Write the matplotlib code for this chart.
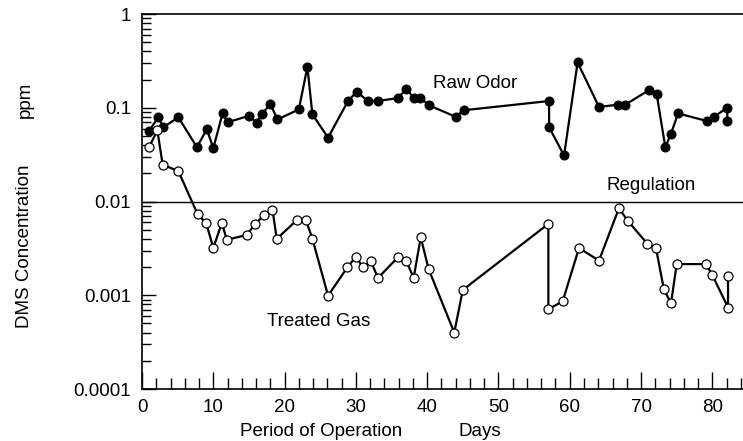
import matplotlib
matplotlib.use("Agg")
import matplotlib.pyplot as plt
from matplotlib.ticker import FixedLocator, FixedFormatter, MultipleLocator, LogLocator, NullFormatter

plt.rcParams['font.family'] = ['Liberation Sans', 'DejaVu Sans']

raw_days = [1.0, 2.3, 3.0, 5.1, 7.7, 9.1, 10.0, 11.3, 12.0, 15.0, 16.1, 16.8, 18.0, 19.0,
            22.0, 23.2, 23.9, 26.1, 28.9, 30.1, 31.7, 33.1, 35.9, 37.1, 38.1, 39.0, 40.3,
            44.0, 45.1, 57.1, 57.1, 59.2, 61.1, 64.1, 66.8, 67.8, 71.1, 72.2, 73.4, 74.2,
            75.2, 79.3, 80.2, 82.1, 82.1]
raw_ppm = [0.057, 0.079, 0.062, 0.079, 0.038, 0.059, 0.037, 0.087, 0.070, 0.082, 0.069,
           0.085, 0.110, 0.075, 0.096, 0.273, 0.085, 0.048, 0.118, 0.148, 0.118, 0.118,
           0.127, 0.160, 0.127, 0.127, 0.106, 0.080, 0.094, 0.118, 0.062, 0.031, 0.304,
           0.102, 0.108, 0.108, 0.154, 0.139, 0.038, 0.053, 0.087, 0.072, 0.080, 0.100,
           0.072]

treated_days = [1.0, 2.15, 2.9, 5.1, 7.8, 9.0, 10.0, 11.2, 11.9, 14.7, 15.9, 17.1, 18.3,
                18.9, 21.7, 23.0, 23.9, 26.1, 28.8, 30.0, 31.0, 32.1, 33.1, 35.9, 37.1,
                38.1, 39.1, 40.2, 43.8, 45.0, 57.0, 57.0, 59.0, 61.3, 64.1, 66.9, 68.1,
                70.9, 72.1, 73.2, 74.2, 75.0, 79.1, 80.0, 82.2, 82.2]
treated_ppm = [0.038, 0.0575, 0.0247, 0.0211, 0.0073, 0.0059, 0.0032, 0.0059, 0.0039,
               0.0044, 0.0058, 0.0071, 0.0082, 0.0040, 0.0063, 0.0063, 0.0040, 0.00099,
               0.00198, 0.00258, 0.00198, 0.0023, 0.00153, 0.00254, 0.0023, 0.00153,
               0.00415, 0.0019, 0.00040, 0.00114, 0.00577, 0.00071, 0.00086, 0.00319,
               0.00234, 0.00848, 0.00627, 0.00353, 0.00317, 0.00116, 0.00082, 0.00215,
               0.00215, 0.00164, 0.00074, 0.00162]

regulation = 0.01
y_ticks = [1e-4, 1e-3, 1e-2, 1e-1, 1]
y_tick_labels = ["0.0001", "0.001", "0.01", "0.1", "1"]
x_ticks = [0, 10, 20, 30, 40, 50, 60, 70, 80]

fig = plt.figure(figsize=(7.43, 4.41), dpi=100)
ax = fig.add_axes([142/743, (441-389)/441, (743-142)/743, (389-14)/441])

ax.axhline(regulation, color='black', lw=1.0, zorder=1)
ax.plot(raw_days, raw_ppm, color='black', lw=1.6, marker='o', ms=6.2,
        mfc='black', mec='black', zorder=3)
ax.plot(treated_days, treated_ppm, color='black', lw=1.6, marker='o', ms=6.5,
        mfc='white', mec='black', mew=0.9, zorder=3)

ax.set_yscale('log')
ax.set_ylim(1e-4, 1)
ax.set_xlim(0, 84.3)

ax.yaxis.set_major_locator(FixedLocator(y_ticks))
ax.yaxis.set_major_formatter(FixedFormatter(y_tick_labels))
ax.yaxis.set_minor_locator(LogLocator(base=10, subs=range(2, 10)))
ax.yaxis.set_minor_formatter(NullFormatter())
ax.xaxis.set_major_locator(FixedLocator(x_ticks))
ax.xaxis.set_minor_locator(MultipleLocator(2))

ax.tick_params(axis='x', which='major', direction='in', length=12, width=1, labelsize=13.5, pad=7)
ax.tick_params(axis='x', which='minor', direction='in', length=8, width=1)
ax.tick_params(axis='y', which='major', direction='in', length=10, width=1, labelsize=13.5, pad=8)
ax.tick_params(axis='y', which='minor', direction='in', length=6.5, width=1)

for s in ['left', 'bottom', 'top']:
    ax.spines[s].set_linewidth(1.2)
ax.spines['right'].set_visible(False)

ax.text(475/743, 1 - 84/441, "Raw Odor", transform=fig.transFigure, ha='center', va='center', fontsize=13.5)
ax.text(651/743, 1 - 185/441, "Regulation", transform=fig.transFigure, ha='center', va='center', fontsize=13.5)
ax.text(319/743, 1 - 321/441, "Treated Gas", transform=fig.transFigure, ha='center', va='center', fontsize=13.5)

fig.text(25/743, 1 - 246/441, "DMS Concentration", rotation=90, ha='center', va='center', fontsize=13.5)
fig.text(25/743, 1 - 100/441, "ppm", rotation=90, ha='center', va='center', fontsize=13.5)
fig.text(321/743, 1 - 431/441, "Period of Operation", ha='center', va='center', fontsize=13.5)
fig.text(480/743, 1 - 431/441, "Days", ha='center', va='center', fontsize=13.5)

fig.savefig("out.png", dpi=100)
